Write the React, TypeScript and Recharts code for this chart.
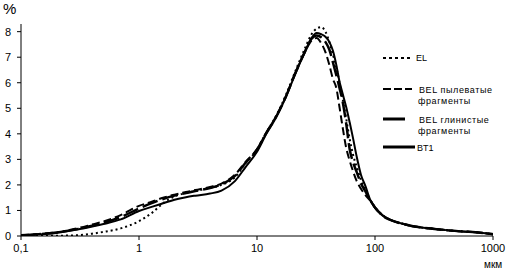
import React from 'react';
import { LineChart, Line, XAxis, YAxis } from 'recharts';

// particle size, мкм
const sizes = [
  0.1, 0.15, 0.2, 0.3, 0.4, 0.5, 0.7, 1, 1.3, 1.6, 2, 2.5, 3, 4, 5, 6.5, 8, 10,
  12, 14.5, 17.5, 21, 25.5, 29, 32, 35, 38, 41, 44, 47, 50, 53, 57, 61, 65, 70,
  76, 83, 91, 100, 117, 140, 165, 200, 240, 300, 400, 550, 780, 1000,
];

// % per series
const elValues = [
  0, 0, 0.01, 0.03, 0.09, 0.16, 0.3, 0.58, 0.92, 1.28, 1.55, 1.68, 1.76, 1.88, 2.0, 2.3, 2.85, 3.38,
  4.05, 4.7, 5.5, 6.42, 7.35, 7.9, 8.12, 8.18, 8.0, 7.6, 7.1, 6.6, 6.0, 5.4, 4.6, 3.8, 3.2, 2.7,
  2.2, 1.8, 1.42, 1.13, 0.8, 0.6, 0.5, 0.4, 0.34, 0.29, 0.23, 0.18, 0.13, 0.07,
];
const belSiltValues = [
  0.03, 0.09, 0.15, 0.3, 0.45, 0.57, 0.82, 1.18, 1.35, 1.5, 1.62, 1.72, 1.8, 1.92, 2.05, 2.4, 2.9, 3.4,
  4.05, 4.68, 5.45, 6.35, 7.2, 7.65, 7.75, 7.55, 7.2, 6.7, 6.15, 5.8, 5.05, 4.3, 3.45, 2.95, 2.55, 2.15,
  1.85, 1.6, 1.38, 1.1, 0.78, 0.6, 0.5, 0.4, 0.34, 0.29, 0.23, 0.18, 0.13, 0.07,
];
const belClayValues = [
  0.03, 0.08, 0.14, 0.27, 0.4, 0.52, 0.74, 1.08, 1.3, 1.45, 1.58, 1.68, 1.76, 1.88, 2.02, 2.35, 2.87, 3.38,
  4.04, 4.66, 5.44, 6.35, 7.22, 7.72, 7.85, 7.78, 7.6, 7.3, 6.8, 6.3, 5.8, 5.3, 4.4, 3.4, 2.9, 2.5,
  2.06, 1.75, 1.4, 1.12, 0.78, 0.6, 0.5, 0.4, 0.34, 0.29, 0.23, 0.18, 0.13, 0.07,
];
const bt1Values = [
  0.02, 0.07, 0.12, 0.25, 0.37, 0.47, 0.65, 0.98, 1.15, 1.28, 1.42, 1.52, 1.58, 1.66, 1.78, 2.15, 2.7, 3.3,
  4.0, 4.64, 5.42, 6.32, 7.22, 7.75, 7.95, 7.9, 7.8, 7.6, 7.25, 6.7, 6.05, 5.6, 5.05, 4.45, 3.85, 3.1,
  2.4, 1.95, 1.42, 1.12, 0.8, 0.6, 0.5, 0.4, 0.34, 0.29, 0.23, 0.18, 0.13, 0.07,
];

const xTicks = [0.1, 1, 10, 100, 1000];
const yTicks = [0, 1, 2, 3, 4, 5, 6, 7, 8];

const data = sizes.map((size, i) => ({
  size,
  el: elValues[i],
  belSilt: belSiltValues[i],
  belClay: belClayValues[i],
  bt1: bt1Values[i],
}));

const font = '"Liberation Sans", Arial, sans-serif';
const tickStyle = { fontSize: 11, fill: '#000', fontFamily: font };

export default function App() {
  return (
    <div style={{ position: 'absolute', left: 0, top: 0, width: 510, height: 270, background: '#fff' }}>
      <LineChart width={510} height={270} data={data} margin={{ top: 24, right: 17, bottom: 4, left: 1 }}>
        <XAxis
          dataKey="size"
          type="number"
          scale="log"
          domain={[0.1, 1000]}
          ticks={xTicks}
          tickFormatter={(v) => String(v).replace('.', ',')}
          stroke="#000"
          tick={tickStyle}
          tickSize={4}
          tickMargin={4}
          height={30}
          allowDataOverflow
        />
        <YAxis
          type="number"
          domain={[0, 8.3]}
          ticks={yTicks}
          stroke="#000"
          tick={tickStyle}
          tickSize={4}
          tickMargin={6}
          width={20}
          allowDataOverflow
        />
        <Line type="monotone" dataKey="el" stroke="#000" strokeWidth={2} strokeDasharray="2 3" dot={false} isAnimationActive={false} />
        <Line type="monotone" dataKey="belSilt" stroke="#000" strokeWidth={2} strokeDasharray="8 4" dot={false} isAnimationActive={false} />
        <Line type="monotone" dataKey="belClay" stroke="#000" strokeWidth={2.5} strokeDasharray="16 5" dot={false} isAnimationActive={false} />
        <Line type="monotone" dataKey="bt1" stroke="#000" strokeWidth={2} dot={false} isAnimationActive={false} />
      </LineChart>

      {/* axis captions and legend */}
      <svg width={510} height={270} style={{ position: 'absolute', left: 0, top: 0, pointerEvents: 'none' }}>
        <text x={3} y={14} fontSize={15} fontFamily={font} fill="#000">%</text>
        <text x={484} y={268} fontSize={10} fontFamily={font} fill="#000">мкм</text>

        <g fontSize={9} fontFamily={font} fill="#000">
          <line x1={383} y1={58} x2={412} y2={58} stroke="#000" strokeWidth={2} strokeDasharray="3 3" />
          <text x={416} y={61}>EL</text>

          <line x1={383} y1={89} x2={412} y2={89} stroke="#000" strokeWidth={2} strokeDasharray="8 3" />
          <text x={419} y={93} letterSpacing={0.6}>BEL пылеватые</text>
          <text x={418} y={104} letterSpacing={0.6}>фрагменты</text>

          <line x1={383} y1={119} x2={405} y2={119} stroke="#000" strokeWidth={3} />
          <text x={419} y={123} letterSpacing={0.6}>BEL глинистые</text>
          <text x={418} y={134} letterSpacing={0.6}>фрагменты</text>

          <line x1={383} y1={147} x2={415} y2={147} stroke="#000" strokeWidth={3} />
          <text x={417} y={151}>BT1</text>
        </g>
      </svg>
    </div>
  );
}
